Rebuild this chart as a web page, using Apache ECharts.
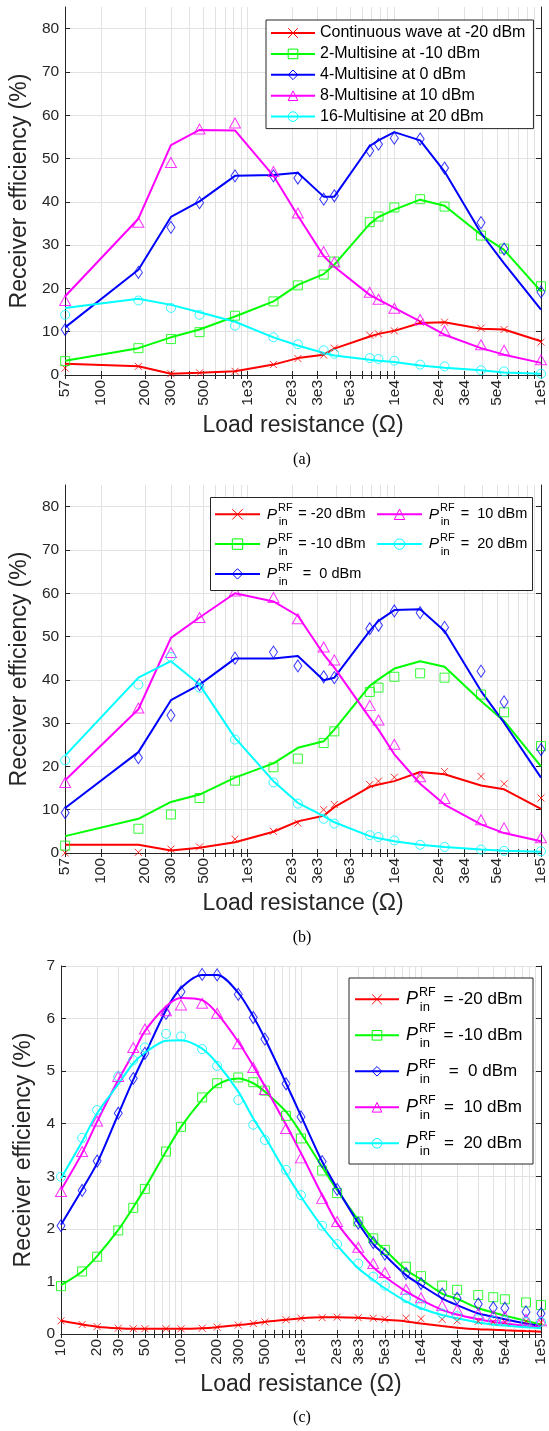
<!DOCTYPE html>
<html>
<head>
<meta charset="utf-8">
<script src="https://cdn.jsdelivr.net/npm/echarts@6/dist/echarts.min.js"></script>
<style>
  html, body { margin: 0; padding: 0; background: #ffffff; }
  #chart { width: 549px; height: 1431px; }
</style>
</head>
<body>
<div id="chart"></div>
<script>
// ---------- load resistances (Ω) ----------
const resistanceAB = [57, 180, 300, 470, 820, 1500, 2200, 3300, 3900, 6800, 7800, 10000, 15000, 22000, 39000, 56000, 100000];
const resistanceC = [10, 15, 20, 30, 40, 50, 75, 100, 150, 200, 300, 400, 500, 750, 1000, 1500, 2000, 3000, 4000, 5000, 7500, 10000, 15000, 20000, 30000, 40000, 50000, 75000, 100000];

// ---------- axis ticks ----------
const xLabelTicksAB = [57, 100, 200, 300, 500, 1000, 2000, 3000, 5000, 10000, 20000, 30000, 50000, 100000];
const xLabelTextAB = ['57', '100', '200', '300', '500', '1e3', '2e3', '3e3', '5e3', '1e4', '2e4', '3e4', '5e4', '1e5'];
const xLabelTicksC = [10, 20, 30, 50, 100, 200, 300, 500, 1000, 2000, 3000, 5000, 10000, 20000, 30000, 50000, 100000];
const xLabelTextC = ['10', '20', '30', '50', '100', '200', '300', '500', '1e3', '2e3', '3e3', '5e3', '1e4', '2e4', '3e4', '5e4', '1e5'];
const yTicksAB = [0, 10, 20, 30, 40, 50, 60, 70, 80];
const yTicksC = [0, 1, 2, 3, 4, 5, 6, 7];

// ---------- (a) different waveforms ----------
const namesA = ['Continuous wave at -20 dBm', '2-Multisine at -10 dBm', '4-Multisine at 0 dBm', '8-Multisine at 10 dBm', '16-Multisine at 20 dBm'];
const aCwLine    = [2.6, 2.0, 0.3, 0.5, 0.85, 2.4, 3.9, 4.7, 6.1, 8.9, 9.5, 10.2, 12.0, 12.2, 10.7, 10.5, 7.8];
const aCwMeas    = [1.6, 2.0, 0.3, 0.5, 0.85, 2.4, 3.8, 4.6, 6.2, 9.2, 9.5, 10.2, 12.2, 12.2, 10.8, 10.5, 7.6];
const aMs2Line   = [3.3, 6.2, 8.7, 10.5, 13.5, 17.0, 20.8, 23.3, 25.5, 34.9, 36.5, 38.2, 40.5, 39.1, 32.4, 28.9, 19.3];
const aMs2Meas   = [3.2, 6.2, 8.3, 9.9, 13.7, 17.0, 20.7, 23.2, 26.2, 35.3, 36.6, 38.7, 40.6, 38.9, 32.2, 29.2, 20.5];
const aMs4Line   = [11.0, 24.3, 36.5, 40.1, 46.0, 46.2, 46.7, 41.2, 41.2, 52.9, 54.2, 56.1, 54.2, 47.0, 32.8, 25.8, 15.1];
const aMs4Meas   = [10.5, 23.7, 34.1, 39.8, 46.0, 46.0, 45.5, 40.6, 41.4, 51.8, 53.3, 54.7, 54.5, 47.8, 35.2, 29.1, 19.2];
const aMs8Line   = [18.2, 36.1, 53.1, 56.6, 56.5, 46.0, 36.8, 27.5, 25.0, 18.5, 17.4, 15.5, 12.4, 9.3, 6.2, 4.7, 2.8];
const aMs8Meas   = [17.2, 35.3, 49.1, 56.8, 58.2, 47.0, 37.4, 28.5, 26.1, 19.1, 17.5, 15.4, 12.8, 10.2, 7.0, 5.7, 3.5];
const aMs16Line  = [15.5, 17.6, 16.2, 14.5, 12.3, 8.7, 6.8, 5.1, 4.5, 3.5, 3.3, 3.0, 2.2, 1.7, 1.1, 0.6, 0.3];
const aMs16Meas  = [13.9, 17.2, 15.5, 13.9, 11.4, 8.7, 7.1, 5.7, 4.9, 3.9, 3.7, 3.3, 2.4, 2.0, 1.1, 0.85, 0.3];

// ---------- (b) input power sweep ----------
const powerText = ['= -20 dBm', '= -10 dBm', '=  0 dBm', '=  10 dBm', '=  20 dBm'];
const namesB = ['(b) -20 dBm', '(b) -10 dBm', '(b) 0 dBm', '(b) 10 dBm', '(b) 20 dBm'];
const bM20Line = [1.9, 1.9, 0.6, 1.2, 2.5, 4.9, 7.3, 8.6, 10.6, 15.3, 15.8, 16.6, 18.7, 18.2, 15.6, 14.7, 10.2];
const bM20Meas = [0.0, 0.15, 0.9, 1.4, 3.2, 5.0, 6.9, 10.0, 11.2, 15.8, 16.6, 17.5, 17.9, 18.8, 17.7, 16.0, 12.7];
const bM10Line = [3.9, 7.9, 11.8, 13.5, 17.4, 20.7, 24.3, 25.8, 28.5, 38.6, 40.1, 42.6, 44.3, 43.0, 35.1, 30.5, 20.0];
const bM10Meas = [1.7, 5.6, 8.9, 12.7, 16.7, 19.8, 21.8, 25.4, 28.1, 37.2, 38.2, 40.7, 41.5, 40.5, 36.6, 32.5, 24.7];
const bP0Line  = [10.4, 23.3, 35.3, 38.9, 44.9, 44.9, 45.5, 39.9, 40.5, 51.3, 53.6, 56.1, 56.3, 51.3, 37.4, 30.1, 17.4];
const bP0Meas  = [9.3, 22.0, 31.8, 38.9, 45.0, 46.4, 43.2, 40.7, 40.5, 51.8, 52.6, 55.9, 55.5, 52.1, 42.0, 34.9, 23.9];
const bP10Line = [16.8, 33.2, 49.7, 54.4, 60.0, 58.1, 54.8, 45.9, 42.8, 31.2, 28.5, 22.8, 16.0, 11.2, 6.6, 4.6, 2.7];
const bP10Meas = [16.3, 33.5, 46.3, 54.4, 60.5, 59.0, 54.1, 47.6, 44.6, 34.1, 30.7, 25.1, 17.6, 12.6, 7.7, 5.8, 3.5];
const bP20Line = [22.5, 40.5, 44.3, 38.9, 26.6, 16.6, 11.6, 8.5, 7.1, 3.9, 3.4, 2.7, 1.9, 1.4, 0.8, 0.5, 0.3];
const bP20Meas = [21.4, 38.9, 45.3, 38.2, 26.2, 16.3, 11.4, 7.9, 6.8, 4.1, 3.7, 2.9, 1.9, 1.4, 0.8, 0.5, 0.4];

// ---------- (c) wide resistance sweep ----------
const namesC = ['(c) -20 dBm', '(c) -10 dBm', '(c) 0 dBm', '(c) 10 dBm', '(c) 20 dBm'];
const cM20Line = [0.25, 0.18, 0.14, 0.11, 0.10, 0.10, 0.10, 0.10, 0.11, 0.13, 0.17, 0.20, 0.23, 0.27, 0.30, 0.32, 0.32, 0.31, 0.29, 0.27, 0.24, 0.20, 0.15, 0.12, 0.09, 0.08, 0.07, 0.055, 0.045];
const cM20Meas = [0.25, 0.18, 0.14, 0.11, 0.10, 0.10, 0.10, 0.10, 0.11, 0.13, 0.17, 0.20, 0.23, 0.27, 0.30, 0.31, 0.32, 0.31, 0.30, 0.28, 0.30, 0.29, 0.28, 0.25, 0.24, 0.23, 0.23, 0.24, 0.22];
const cM10Line = [0.93, 1.19, 1.48, 1.98, 2.41, 2.77, 3.47, 3.94, 4.46, 4.74, 4.86, 4.77, 4.61, 4.23, 3.82, 3.18, 2.74, 2.17, 1.80, 1.60, 1.22, 1.04, 0.77, 0.67, 0.49, 0.41, 0.35, 0.25, 0.18];
const cM10Meas = [0.91, 1.19, 1.47, 1.97, 2.40, 2.76, 3.47, 3.94, 4.50, 4.77, 4.88, 4.79, 4.63, 4.15, 3.72, 3.11, 2.68, 2.14, 1.82, 1.60, 1.28, 1.10, 0.92, 0.84, 0.74, 0.70, 0.66, 0.60, 0.55];
const cP0Line  = [2.08, 2.75, 3.25, 4.18, 4.84, 5.31, 6.16, 6.58, 6.83, 6.83, 6.49, 6.04, 5.62, 4.77, 4.15, 3.28, 2.77, 2.11, 1.71, 1.50, 1.12, 0.93, 0.68, 0.55, 0.39, 0.33, 0.28, 0.20, 0.15];
const cP0Meas  = [2.06, 2.73, 3.29, 4.20, 4.86, 5.34, 6.10, 6.51, 6.84, 6.83, 6.46, 6.02, 5.61, 4.76, 4.13, 3.28, 2.75, 2.11, 1.74, 1.52, 1.15, 0.96, 0.76, 0.68, 0.57, 0.50, 0.49, 0.42, 0.39];
const cP10Line = [2.74, 3.44, 4.04, 4.83, 5.34, 5.76, 6.23, 6.39, 6.35, 6.10, 5.56, 5.10, 4.71, 3.98, 3.44, 2.64, 2.11, 1.60, 1.27, 1.09, 0.81, 0.65, 0.46, 0.37, 0.28, 0.23, 0.20, 0.15, 0.12];
const cP10Meas = [2.71, 3.47, 4.05, 4.90, 5.45, 5.80, 6.15, 6.26, 6.29, 6.10, 5.52, 5.07, 4.65, 3.91, 3.35, 2.58, 2.14, 1.65, 1.34, 1.17, 0.85, 0.69, 0.54, 0.46, 0.39, 0.35, 0.33, 0.28, 0.25];
const cP20Line = [2.96, 3.66, 4.20, 4.75, 5.15, 5.35, 5.58, 5.59, 5.43, 5.15, 4.61, 4.10, 3.75, 3.06, 2.61, 2.04, 1.69, 1.25, 1.03, 0.87, 0.62, 0.49, 0.36, 0.30, 0.22, 0.18, 0.16, 0.13, 0.11];
const cP20Meas = [2.99, 3.73, 4.26, 4.90, 5.21, 5.45, 5.71, 5.66, 5.42, 5.10, 4.45, 3.98, 3.69, 3.12, 2.64, 2.06, 1.71, 1.34, 1.09, 0.92, 0.68, 0.55, 0.39, 0.34, 0.28, 0.25, 0.25, 0.23, 0.23];

// ---------- styling ----------
const AXIS_COLOR = '#262626';
const GRID_COLOR = '#e2e2e2';
const SANS = "'Liberation Sans', Arial, Helvetica, sans-serif";
const SERIF = "'Liberation Serif', 'Times New Roman', serif";
const palette = ['#ff0000', '#00ff00', '#0000ff', '#ff00ff', '#00ffff'];
const markerDefs = [
  { symbol: 'path://M0,0L10,10M10,0L0,10', size: 7 },
  { symbol: 'rect', size: 9 },
  { symbol: 'diamond', size: [8, 12] },
  { symbol: 'triangle', size: [11, 10] },
  { symbol: 'circle', size: 9 }
];
const gridTops = [7, 485, 966];
const GRID_LEFT = 61, GRID_W = 482, GRID_H = 368;

// log-grid positions k·10^n, starting at the first full decade inside the axis
function logGrid(min, max) {
  const out = [min];
  const firstDecade = Math.ceil(Math.log10(min));
  for (let e = firstDecade; e <= 5; e++) {
    for (let k = 1; k <= 9; k++) {
      const v = k * Math.pow(10, e);
      if (v > min && v <= max) out.push(v);
    }
  }
  return out;
}

function labelFormatter(ticks, texts) {
  return function (v) {
    const i = ticks.findIndex(t => Math.abs(t - v) / t < 1e-3);
    return i >= 0 ? texts[i] : '';
  };
}

function xAxesFor(gi, min, max, labelTicks, labelTexts) {
  const ticks = logGrid(min, max);
  const common = {
    type: 'log', logBase: 10, gridIndex: gi, min: min, max: max,
    axisLine: { show: true, lineStyle: { color: AXIS_COLOR, width: 1 } },
    axisTick: { show: true, inside: true, length: 4, customValues: ticks, lineStyle: { color: AXIS_COLOR, width: 1 } },
    minorTick: { show: false }, minorSplitLine: { show: false }
  };
  return [
    Object.assign({}, common, {
      position: 'bottom',
      axisLabel: {
        show: true, customValues: labelTicks, rotate: 90, margin: 5,
        formatter: labelFormatter(labelTicks, labelTexts),
        fontSize: 15.5, color: AXIS_COLOR, fontFamily: SANS
      },
      splitLine: { show: true, lineStyle: { color: GRID_COLOR, width: 1 } },
      name: 'Load resistance (Ω)', nameLocation: 'middle', nameGap: 39,
      nameTextStyle: { fontSize: 23, color: AXIS_COLOR, fontFamily: SANS }
    }),
    Object.assign({}, common, {
      position: 'top',
      axisLabel: { show: false },
      splitLine: { show: false }
    })
  ];
}

function yAxesFor(gi, max, ticks) {
  const common = {
    type: 'value', gridIndex: gi, min: 0, max: max, interval: 1,
    axisLine: { show: true, lineStyle: { color: AXIS_COLOR, width: 1 } },
    axisTick: { show: true, inside: true, length: 5, customValues: ticks, lineStyle: { color: AXIS_COLOR, width: 1 } }
  };
  return [
    Object.assign({}, common, {
      position: 'left',
      axisLabel: { show: true, customValues: ticks, margin: 6, fontSize: 15.5, color: AXIS_COLOR, fontFamily: SANS },
      splitLine: { show: true, lineStyle: { color: GRID_COLOR, width: 1 } },
      name: 'Receiver efficiency (%)', nameLocation: 'middle', nameGap: 22, nameRotate: 90,
      nameTextStyle: { fontSize: 23, color: AXIS_COLOR, fontFamily: SANS }
    }),
    Object.assign({}, common, {
      position: 'right',
      axisLabel: { show: false },
      splitLine: { show: false }
    })
  ];
}

function panelSeries(gi, xs, lineSets, measSets, names, smooth) {
  const out = [];
  names.forEach(function (name, i) {
    const c = palette[i], m = markerDefs[i];
    out.push({
      type: 'line', name: name, xAxisIndex: gi * 2, yAxisIndex: gi * 2,
      data: xs.map((x, j) => [x, lineSets[i][j]]),
      symbol: m.symbol, showSymbol: false, smooth: smooth ? 0.3 : false,
      lineStyle: { color: c, width: 2 }, itemStyle: { color: c },
      z: 2, silent: true, emphasis: { disabled: true }
    });
    out.push({
      type: 'scatter', name: name, xAxisIndex: gi * 2, yAxisIndex: gi * 2,
      data: xs.map((x, j) => [x, measSets[i][j]]),
      symbol: m.symbol, symbolSize: m.size,
      itemStyle: { color: 'rgba(0,0,0,0)', borderColor: c, borderWidth: 1 },
      z: 3, silent: true, emphasis: { disabled: true }
    });
  });
  return out;
}

function legendData(names, idx) {
  return idx.map(i => ({
    name: names[i],
    itemStyle: { color: 'rgba(0,0,0,0)', borderColor: palette[i], borderWidth: 1 },
    lineStyle: { color: palette[i], width: 2 }
  }));
}

// ---------- legends ----------
// (a): plain text entries
const legendA = {
  orient: 'vertical', left: 266, top: 20, padding: [4, 8, 3, 4], itemGap: 2.9,
  itemWidth: 44, itemHeight: 12, selectedMode: false, z: 10,
  backgroundColor: '#ffffff', borderColor: AXIS_COLOR, borderWidth: 1,
  data: legendData(namesA, [0, 1, 2, 3, 4]),
  textStyle: { fontSize: 16, lineHeight: 18, color: '#000000', fontFamily: SANS }
};

// (b): two columns of P_in^RF entries
const LB = { rowTop: 514.3, pitch: 29.8, lineH: 20, iconW: 45, pW: 14, eqPad: 18, cols: [214, 376] };
function richFor(size, pW, eqPad, tW) {
  return {
    p: { fontSize: size + 1, fontStyle: 'italic', width: pW, align: 'right', fontFamily: SANS, color: '#000', lineHeight: 20 },
    t: { fontSize: size, padding: [0, 0, 0, eqPad], width: tW, fontFamily: SANS, color: '#000', lineHeight: 20 }
  };
}
function powerFormatter(names) {
  return function (name) { return '{p|P}{t|' + powerText[names.indexOf(name)] + '}'; };
}
function legendB(colIdx, idx) {
  return {
    orient: 'vertical', left: LB.cols[colIdx], top: LB.rowTop - LB.lineH / 2, padding: 0,
    itemGap: LB.pitch - LB.lineH, itemWidth: LB.iconW, itemHeight: 13,
    selectedMode: false, z: 10,
    data: legendData(namesB, idx),
    formatter: powerFormatter(namesB),
    textStyle: { fontSize: 14.5, lineHeight: LB.lineH, color: '#000', fontFamily: SANS, rich: richFor(14.5, LB.pW, LB.eqPad, 70) }
  };
}

// (c): single column of P_in^RF entries
const LC = { boxLeft: 349, boxTop: 978, padT: 10.3, padL: 5, lineH: 22, pitch: 36, iconW: 44, pW: 16, eqPad: 22 };
const legendC = {
  orient: 'vertical', left: LC.boxLeft, top: LC.boxTop, padding: [LC.padT, 9, 9.7, LC.padL],
  itemGap: LC.pitch - LC.lineH, itemWidth: LC.iconW, itemHeight: 12,
  selectedMode: false, z: 10,
  backgroundColor: '#ffffff', borderColor: AXIS_COLOR, borderWidth: 1,
  data: legendData(namesC, [0, 1, 2, 3, 4]),
  formatter: powerFormatter(namesC),
  textStyle: {
    fontSize: 17, lineHeight: LC.lineH, color: '#000', fontFamily: SANS,
    rich: {
      p: { fontSize: 18, fontStyle: 'italic', width: LC.pW, align: 'right', fontFamily: SANS, color: '#000', lineHeight: LC.lineH },
      t: { fontSize: 17, padding: [0, 0, 0, LC.eqPad], width: 82, fontFamily: SANS, color: '#000', lineHeight: LC.lineH }
    }
  }
};

// superscript "RF" and subscript "in" placed after each italic P
function scriptTexts(x, rowY, size, upOff, downOff) {
  return [
    { type: 'text', z: 12, x: x, y: rowY - upOff, style: { text: 'RF', font: size + 'px ' + SANS, fill: '#000', align: 'left', verticalAlign: 'middle' } },
    { type: 'text', z: 12, x: x + 0.8, y: rowY + downOff, style: { text: 'in', font: (size + 0.5) + 'px ' + SANS, fill: '#000', align: 'left', verticalAlign: 'middle' } }
  ];
}
const graphics = [];
// legend frame for (b)
graphics.push({ type: 'rect', z: 8, shape: { x: 210.5, y: 497.5, width: 322, height: 93 }, style: { fill: '#ffffff', stroke: AXIS_COLOR, lineWidth: 1 } });
[[0, 0], [0, 1], [0, 2], [1, 0], [1, 1]].forEach(function (cr) {
  const textStart = LB.cols[cr[0]] + LB.iconW + 5;
  scriptTexts(textStart + LB.pW, LB.rowTop + cr[1] * LB.pitch, 11, 6, 7.5).forEach(g => graphics.push(g));
});
for (let k = 0; k < 5; k++) {
  const textStart = LC.boxLeft + LC.padL + LC.iconW + 5;
  const rowY = LC.boxTop + LC.padT + LC.lineH / 2 + k * LC.pitch;
  scriptTexts(textStart + LC.pW, rowY, 12.5, 7, 8.4).forEach(g => graphics.push(g));
}
// panel captions
[['(a)', 460], ['(b)', 938], ['(c)', 1418]].forEach(function (c) {
  graphics.push({ type: 'text', z: 12, x: GRID_LEFT + GRID_W / 2, y: c[1], style: { text: c[0], font: '16px ' + SERIF, fill: '#000', align: 'center', verticalAlign: 'middle' } });
});

const option = {
  animation: false,
  backgroundColor: '#ffffff',
  grid: gridTops.map(t => ({ left: GRID_LEFT, top: t, width: GRID_W, height: GRID_H, containLabel: false })),
  xAxis: [].concat(
    xAxesFor(0, 57, 100000, xLabelTicksAB, xLabelTextAB),
    xAxesFor(1, 57, 100000, xLabelTicksAB, xLabelTextAB),
    xAxesFor(2, 10, 100000, xLabelTicksC, xLabelTextC)
  ),
  yAxis: [].concat(
    yAxesFor(0, 85, yTicksAB),
    yAxesFor(1, 85, yTicksAB),
    yAxesFor(2, 7, yTicksC)
  ),
  legend: [legendA, legendB(0, [0, 1, 2]), legendB(1, [3, 4]), legendC],
  series: [].concat(
    panelSeries(0, resistanceAB, [aCwLine, aMs2Line, aMs4Line, aMs8Line, aMs16Line], [aCwMeas, aMs2Meas, aMs4Meas, aMs8Meas, aMs16Meas], namesA, false),
    panelSeries(1, resistanceAB, [bM20Line, bM10Line, bP0Line, bP10Line, bP20Line], [bM20Meas, bM10Meas, bP0Meas, bP10Meas, bP20Meas], namesB, false),
    panelSeries(2, resistanceC, [cM20Line, cM10Line, cP0Line, cP10Line, cP20Line], [cM20Meas, cM10Meas, cP0Meas, cP10Meas, cP20Meas], namesC, true)
  ),
  graphic: { elements: graphics }
};

const chart = echarts.init(document.getElementById('chart'), null, { renderer: 'canvas' });
chart.setOption(option);
</script>
</body>
</html>
